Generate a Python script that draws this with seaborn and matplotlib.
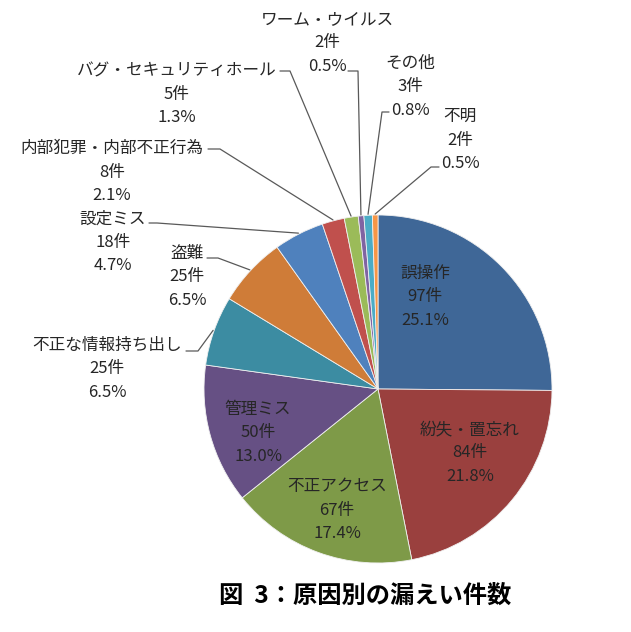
import matplotlib
matplotlib.use("Agg")
import matplotlib.pyplot as plt
import seaborn as sns
import numpy as np

sns.set_style("white")
plt.rcParams['font.family'] = ['Noto Sans CJK JP', 'DejaVu Sans']

# ---- data ----
categories = ["誤操作", "紛失・置忘れ", "不正アクセス", "管理ミス", "不正な情報持ち出し",
              "盗難", "設定ミス", "内部犯罪・内部不正行為", "バグ・セキュリティホール",
              "ワーム・ウイルス", "その他", "不明"]
counts = [97, 84, 67, 50, 25, 25, 18, 8, 5, 2, 3, 2]
percents = ["25.1%", "21.8%", "17.4%", "13.0%", "6.5%", "6.5%", "4.7%", "2.1%",
            "1.3%", "0.5%", "0.8%", "0.5%"]
colors = ["#3F6797", "#9A403E", "#7E9A48", "#665084", "#3C8CA2", "#CF7C38",
          "#4F81BD", "#C0504D", "#9BBB59", "#8064A2", "#4BACC6", "#F79646"]
title = "図  3：原因別の漏えい件数"

# ---- layout (pixel coords, y from top) ----
W, H = 631, 632
cx, cy, R = 378, 389, 174
label_pos = [(425, 297), (470, 453), (337, 510), (258, 433), (107, 369),
             (187, 277), (113, 242), (112, 172), (177, 94), (327, 43),
             (410, 87), (460, 140)]
# leader: (start x, start y, elbow x) or None
leaders = [None, None, None, None, (186, 351, 198), (207, 258, 218),
           (149, 223, 157), (208, 149, 220), (280, 71, 290), (348, 71, 358),
           (389, 112, 382), (439, 167, 431)]

fig = plt.figure(figsize=(W / 100, H / 100), dpi=100)
ax = fig.add_axes([0, 0, 1, 1])

def Y(py):
    return H - py

ax.pie(counts, colors=colors, startangle=90, counterclock=False,
       center=(cx, Y(cy)), radius=R,
       wedgeprops=dict(edgecolor="#f0f0f0", linewidth=0.6))
ax.set_xlim(0, W)
ax.set_ylim(0, H)
ax.set_aspect("equal")
ax.axis("off")

total = sum(counts)
cum = np.cumsum([0] + counts)
for i, (cat, n, pct) in enumerate(zip(categories, counts, percents)):
    x, y = label_pos[i]
    ax.text(x, Y(y), f"{cat}\n{n}件\n{pct}", ha="center", va="center",
            fontsize=12, color="#262626", linespacing=1.48)
    if leaders[i] is not None:
        sx, sy, ex = leaders[i]
        mid = (cum[i] + cum[i + 1]) / 2 / total * 2 * np.pi
        px = cx + (R + 1) * np.sin(mid)
        py = cy - (R + 1) * np.cos(mid)
        ax.plot([sx, ex, px], [Y(sy), Y(sy), Y(py)], color="#595959", lw=0.9)

ax.text(365, Y(596), title, ha="center", va="center", fontsize=17.5,
        fontweight="bold", color="black")

fig.savefig("out.png", dpi=100)
